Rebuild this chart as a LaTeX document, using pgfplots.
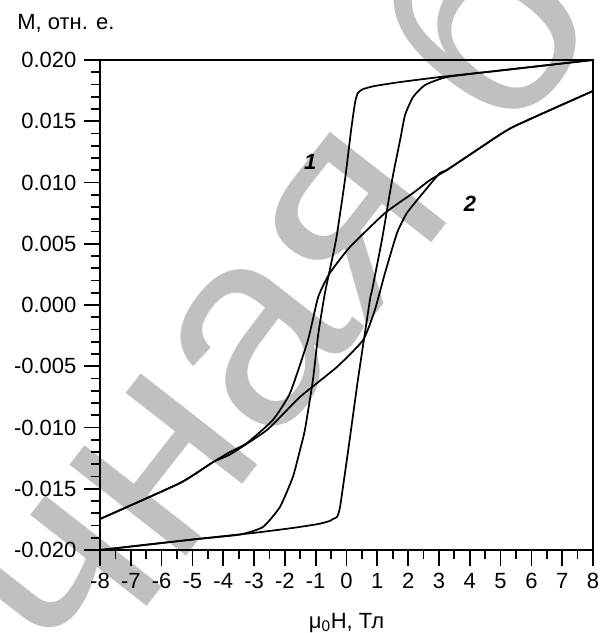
\documentclass[border=0pt]{standalone}
\usepackage{fontspec}
\setmainfont{Liberation Sans}
\usepackage{pgfplots}
\pgfplotsset{compat=1.18}
\definecolor{wm}{RGB}{192,192,192}
\begin{document}
\fontsize{16.5}{19}\selectfont
\begin{tikzpicture}
\path[use as bounding box] (-75pt,-62.25pt) rectangle (375pt,412.5pt);
\node[rotate=52, anchor=base west, text=wm, font=\fontsize{210}{210}\selectfont, inner sep=0pt] at (-240pt,-395pt) {Научная библиотека};
\begin{axis}[
  at={(0pt,0pt)}, anchor=south west,
  scale only axis, width=369.75pt, height=367.5pt,
  xmin=-8, xmax=8, ymin=-0.02, ymax=0.02,
  axis line style={line width=1.4pt},
  xtick={-8,-7,-6,-5,-4,-3,-2,-1,0,1,2,3,4,5,6,7,8}, minor x tick num=1,
  ytick={-0.02,-0.015,-0.01,-0.005,0,0.005,0.01,0.015,0.02},
  minor y tick num=4,
  xtick pos=bottom, ytick pos=left,
  tick align=outside,
  major tick length=12pt, minor tick length=7pt,
  tick style={black, line width=1.3pt},
  scaled y ticks=false,
  yticklabel style={/pgf/number format/.cd, fixed, fixed zerofill, precision=3},
  /pgf/number format/assume math mode=true,
  tick label style={font=\fontsize{16.5}{19}\selectfont},
  curve/.style={black, line width=1.3pt, line join=round, no marks, smooth, tension=0.3},
]
% loop 1, descending branch
\addplot[curve] coordinates {
(8.00,0.02000) (4.98,0.01914) (3.03,0.01861) (1.74,0.01820) (0.92,0.01788)
(0.54,0.01763) (0.37,0.01731) (0.28,0.01657) (0.15,0.01429) (-0.05,0.01020)
(-0.34,0.00531) (-0.70,0.00098) (-0.92,-0.00245) (-1.09,-0.00612) (-1.35,-0.01020)
(-1.51,-0.01184) (-1.74,-0.01404) (-2.16,-0.01649) (-2.71,-0.01812) (-3.46,-0.01874)
(-4.98,-0.01914) (-8.00,-0.02000)
};
% loop 1, ascending branch
\addplot[curve] coordinates {
(-8.00,-0.02000) (-4.98,-0.01914) (-3.03,-0.01861) (-1.74,-0.01820) (-0.92,-0.01788)
(-0.54,-0.01763) (-0.44,-0.01747) (-0.31,-0.01731) (-0.21,-0.01649) (0.07,-0.01159)
(0.37,-0.00612) (0.76,0.00041) (0.83,0.00122) (1.15,0.00531)
(1.48,0.01020) (1.74,0.01347) (1.90,0.01551) (2.16,0.01698) (2.55,0.01796)
(3.26,0.01861) (4.98,0.01914) (8.00,0.02000)
};
% loop 2, descending branch
\addplot[curve] coordinates {
(8.00,0.01747) (5.40,0.01453) (4.33,0.01282) (3.26,0.01102) (2.71,0.01020)
(2.16,0.00914) (1.25,0.00751) (0.11,0.00473) (-0.54,0.00261) (-0.92,0.00065)
(-1.25,-0.00286) (-1.83,-0.00718) (-2.39,-0.00939) (-3.23,-0.01127) (-3.78,-0.01200)
(-4.33,-0.01282) (-5.40,-0.01453) (-8.00,-0.01747)
};
% loop 2, ascending branch
\addplot[curve] coordinates {
(-8.00,-0.01747) (-5.40,-0.01453) (-4.33,-0.01282) (-3.78,-0.01220) (-2.58,-0.01020)
(-1.51,-0.00751) (-0.31,-0.00506) (0.54,-0.00286) (0.92,-0.00041) (1.25,0.00261)
(1.64,0.00588) (1.96,0.00751) (2.48,0.00914) (3.03,0.01078) (3.26,0.01102)
(4.33,0.01282) (5.40,0.01453) (8.00,0.01747)
};
\node[font=\fontsize{16.5}{19}\selectfont\bfseries\itshape] at (axis cs:-1.18,0.01167) {1};
\node[font=\fontsize{16.5}{19}\selectfont\bfseries\itshape] at (axis cs:4.01,0.00824) {2};
\end{axis}
\node[anchor=base west, inner sep=0pt] at (-62.25pt,390pt) {M, отн. е.};
\node[anchor=base, inner sep=0pt] at (184.9pt,-58.5pt) {μ\textsubscript{0}H, Тл};
\end{tikzpicture}
\end{document}
